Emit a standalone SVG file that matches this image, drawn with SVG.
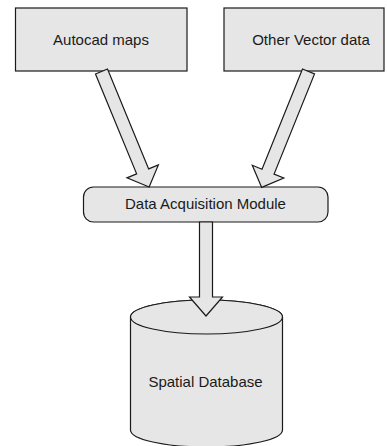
<svg xmlns="http://www.w3.org/2000/svg" width="387" height="446" viewBox="0 0 387 446">
  <style>
    .shape { fill: #e6e6e6; stroke: #1a1a1a; stroke-width: 1.2; }
    .label { font-family: "Liberation Sans", Arial, sans-serif; font-size: 15px; fill: #1a1a1a; text-anchor: middle; }
  </style>
  <defs>
    <!-- block arrow pointing along +y, length 125 -->
    <path id="blockArrow" d="M -6.5,0 L 6.5,0 L 6.5,108 L 17,108 L 0,125 L -17,108 L -6.5,108 Z"/>
  </defs>
  <rect width="387" height="446" fill="#ffffff"/>

  <g id="autocad-maps">
    <rect class="shape" x="15.5" y="8" width="171.5" height="63"/>
    <text class="label" x="101" y="45">Autocad maps</text>
  </g>

  <g id="other-vector-data">
    <rect class="shape" x="224" y="8" width="160" height="63"/>
    <text class="label" x="311" y="45">Other Vector data</text>
  </g>

  <g id="data-acquisition-module">
    <rect class="shape" x="83.5" y="187" width="244.5" height="35" rx="10" ry="10"/>
    <text class="label" x="205.5" y="209">Data Acquisition Module</text>
  </g>

  <g id="spatial-database">
    <path class="shape" d="M 130.5,317 L 130.5,430 A 76,17 0 0 0 282.5,430 L 282.5,317 A 76,17 0 0 0 130.5,317 Z"/>
    <ellipse class="shape" cx="206.5" cy="317" rx="76" ry="17"/>
    <text class="label" x="205.5" y="387">Spatial Database</text>
  </g>

  <g id="connectors">
    <use href="#blockArrow" class="shape" transform="translate(101.5,71.5) rotate(-22.4)"/>
    <use href="#blockArrow" class="shape" transform="translate(308.5,71.5) rotate(22)"/>
    <path class="shape" d="M 199.5,222 L 212.5,222 L 212.5,297 L 222.5,297 L 206,316 L 189.5,297 L 199.5,297 Z"/>
  </g>
</svg>
